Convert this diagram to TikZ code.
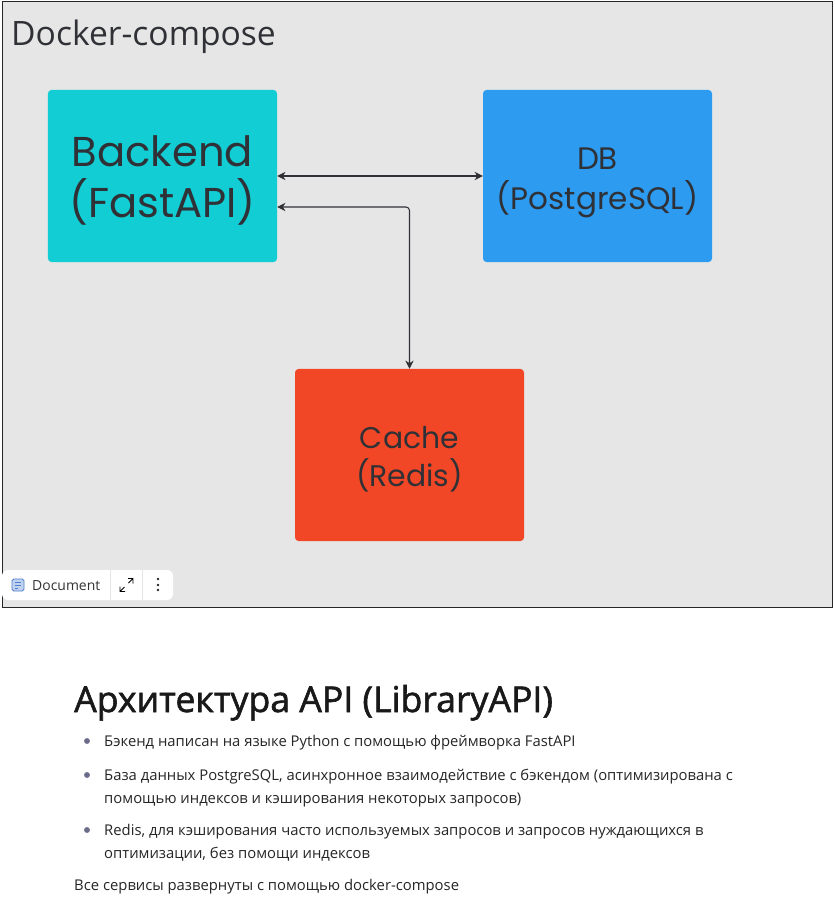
\documentclass[tikz,border=0pt]{standalone}
\usepackage{fontspec}
\setmainfont{Open Sans}
\newfontfamily\boxfont{Poppins}
\newfontfamily\headfont[FakeBold=1.6]{Open Sans}
\usetikzlibrary{arrows.meta}
\definecolor{panelgrey}{HTML}{E6E6E6}
\definecolor{backendcol}{HTML}{12CDD4}
\definecolor{dbcol}{HTML}{2D9BF0}
\definecolor{cachecol}{HTML}{F24726}
\definecolor{inkcol}{HTML}{2F3136}
\definecolor{bulletcol}{HTML}{6B6B8A}
\definecolor{iconcol}{HTML}{4F7FD0}
\tikzset{
  service/.style={rounded corners=3pt, minimum width=6.87cm, minimum height=5.16cm, align=center, text=inkcol},
  conn/.style={draw=inkcol, line width=0.9pt, {Stealth[length=7pt,width=7pt]}-{Stealth[length=7pt,width=7pt]}},
  bodytext/.style={anchor=base west, inner sep=0pt, text=black!85, font=\fontsize{12.65}{12.65}\selectfont},
  bulletdot/.style={circle, fill=bulletcol, inner sep=0pt, minimum size=5pt},
  divider/.style={draw=black!10, line width=0.5pt}
}
\begin{document}
\begin{tikzpicture}[x=0.03cm, y=-0.03cm]
\useasboundingbox (0,0) rectangle (834,906);

%Panel
\fill[white] (0,0) rectangle (834,906);
\draw[fill=panelgrey, draw=black!85, line width=0.8pt] (2,1) rectangle (832,607);
\fill[white, rounded corners=4pt] (3,611) rectangle (832,930);
\node[anchor=base west, inner sep=0pt, text=inkcol, font=\fontsize{28.7}{28.7}\selectfont] (title) at (11,46) {Docker-compose};

%Services
\node[service, fill=backendcol, font=\boxfont\fontsize{35.6}{43.5}\selectfont] (backend) at (162.5,176) {\rule{0pt}{34.7pt}Backend\\(FastAPI)};
\node[service, fill=dbcol, font=\boxfont\fontsize{26.5}{34}\selectfont] (db) at (597.5,176) {\rule{0pt}{30pt}DB\\(PostgreSQL)};
\node[service, fill=cachecol, font=\boxfont\fontsize{25.5}{32.5}\selectfont] (cache) at (409.5,455) {\rule{0pt}{26pt}Cache\\(Redis)};

%Connectors
\draw[conn] (backend.east) -- (db.west);
\draw[conn, rounded corners=3pt] ([yshift=-0.93cm]backend.east) -| (cache.north);

%Toolbar
\fill[white, rounded corners=5pt] (2,570) rectangle (173,600);
\draw[divider] (110,570) -- (110,600);
\draw[divider] (142,570) -- (142,600);
\draw[fill=iconcol!35, draw=iconcol, line width=0.8pt, rounded corners=1.5pt] (12,579) rectangle (24,591);
\foreach \yy/\xx in {582/21, 585/21, 588/18} \draw[iconcol, line width=0.6pt] (14.5,\yy) -- (\xx,\yy);
\node[anchor=base west, inner sep=0pt, text=black!80, font=\fontsize{11.9}{11.9}\selectfont] (doclabel) at (32,590) {Document};
\draw[black, line width=0.8pt] (128.5,583) -- (133,578.5) (128,578.5) -- (133,578.5) -- (133,583.5);
\draw[black, line width=0.8pt] (124.5,587) -- (120,591.5) (120,586.5) -- (120,591.5) -- (125,591.5);
\foreach \yy in {579,585,590} \fill[black!85] (158,\yy) circle (1.3);

%Text
\node[anchor=base west, inner sep=0pt, text=black!90, font=\headfont\fontsize{30.4}{30.4}\selectfont] (heading) at (74,712) {Архитектура API (LibraryAPI)};
\node[bulletdot] (dota) at (87,741) {};
\node[bulletdot] (dotb) at (87,775) {};
\node[bulletdot] (dotc) at (87,830) {};
\node[bodytext] (lineone) at (104,746) {Бэкенд написан на языке Python с помощью фреймворка FastAPI};
\node[bodytext] (linetwo) at (104,780) {База данных PostgreSQL, асинхронное взаимодействие с бэкендом (оптимизирована с};
\node[bodytext] (linethree) at (104,803) {помощью индексов и кэширования некоторых запросов)};
\node[bodytext] (linefour) at (104,835) {Redis, для кэширования часто используемых запросов и запросов нуждающихся в};
\node[bodytext] (linefive) at (104,858) {оптимизации, без помощи индексов};
\node[bodytext] (linesix) at (74,890) {Все сервисы развернуты с помощью docker-compose};

\end{tikzpicture}
\end{document}
